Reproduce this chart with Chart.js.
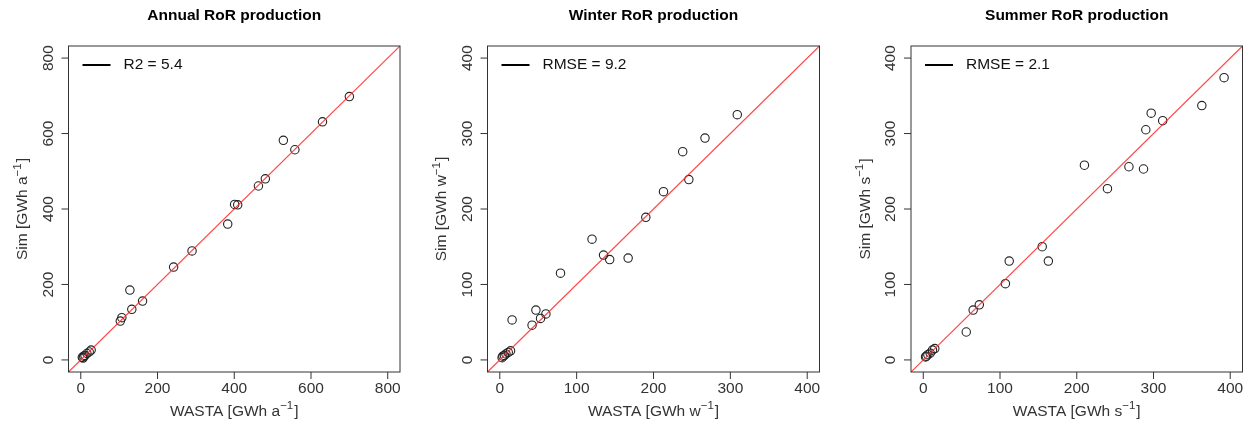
<!DOCTYPE html>
<html>
<head>
<meta charset="utf-8">
<title>RoR production: WASTA vs Sim</title>
<script src="https://cdn.jsdelivr.net/npm/chart.js@4.4.1/dist/chart.umd.min.js"></script>
<style>
  html, body { margin: 0; padding: 0; background: #fff; }
  #wrap { position: relative; width: 1251px; height: 425px; }
  #wrap canvas { position: absolute; top: 0; }
</style>
</head>
<body>
<div id="wrap">
  <canvas id="annual" width="417" height="425" style="left:0px"></canvas>
  <canvas id="winter" width="417" height="425" style="left:417px"></canvas>
  <canvas id="summer" width="417" height="425" style="left:834px"></canvas>
</div>
<script>
// plant values, GWh per period
const annualWasta = [4, 6, 8, 11, 16, 22, 27, 103, 107, 128, 133, 161, 242, 290, 383, 401, 409, 463, 481, 528, 558, 630, 700];
const annualSim   = [7, 5, 10, 12, 17, 21, 26, 103, 112, 185, 134, 156, 246, 289, 360, 412, 411, 461, 480, 582, 557, 631, 698];

const winterWasta = [3, 4, 6, 8, 11, 14, 16, 42, 47, 53, 60, 79, 120, 135, 143, 167, 190, 213, 238, 246, 267, 309];
const winterSim   = [3, 5, 6, 8, 10, 12, 53, 46, 66, 55, 61, 115, 160, 139, 133, 135, 189, 223, 276, 239, 294, 325];

const summerWasta = [3, 4, 6, 9, 12, 15, 56, 65, 73, 107, 112, 155, 163, 210, 240, 268, 287, 290, 297, 312, 363, 392];
const summerSim   = [4, 5, 7, 9, 13, 15, 37, 66, 73, 101, 131, 150, 131, 258, 227, 256, 253, 305, 327, 317, 337, 374];

const annualTicks = [0, 200, 400, 600, 800];
const seasonTicks = [0, 100, 200, 300, 400];

const FONT = '"Liberation Sans", Arial, Helvetica, sans-serif';
const TEXT = '15.5px ' + FONT;

function line(ctx, x1, y1, x2, y2) {
  ctx.beginPath();
  ctx.moveTo(x1, y1);
  ctx.lineTo(x2, y2);
  ctx.stroke();
}

// "text [GWh u^-1]" centred on (cx, cy), with the exponent raised
function unitLabel(ctx, head, cx, cy) {
  const sup = '11.5px ' + FONT;
  const exp = '\u22121', tail = ']';
  ctx.font = TEXT;
  const wHead = ctx.measureText(head).width;
  const wTail = ctx.measureText(tail).width;
  ctx.font = sup;
  const wExp = ctx.measureText(exp).width;
  let x = cx - (wHead + wExp + wTail + 1) / 2;
  const base = cy + 5.5;
  ctx.textAlign = 'left';
  ctx.textBaseline = 'alphabetic';
  ctx.font = TEXT;
  ctx.fillText(head, x, base);
  x += wHead;
  ctx.font = sup;
  ctx.fillText(exp, x, base - 6.5);
  x += wExp + 1;
  ctx.font = TEXT;
  ctx.fillText(tail, x, base);
}

// box, outer ticks, rotated y labels, titles and the key, drawn base-graphics style
const rPlot = {
  id: 'rPlot',
  afterDraw(chart, args, opts) {
    const { ctx, chartArea: a, scales: { x, y } } = chart;
    ctx.save();
    ctx.strokeStyle = '#333';
    ctx.fillStyle = '#333';
    ctx.lineWidth = 1;
    ctx.strokeRect(a.left, a.top, a.width, a.height);

    ctx.font = TEXT;
    ctx.textAlign = 'center';
    ctx.textBaseline = 'middle';
    opts.ticks.forEach(v => {
      const px = x.getPixelForValue(v);
      line(ctx, px, a.bottom, px, a.bottom + 7);
      ctx.fillText(String(v), px, a.bottom + 17);
    });
    opts.ticks.forEach(v => {
      const py = y.getPixelForValue(v);
      line(ctx, a.left - 7, py, a.left, py);
      ctx.save();
      ctx.translate(a.left - 20, py);
      ctx.rotate(-Math.PI / 2);
      ctx.fillText(String(v), 0, 0);
      ctx.restore();
    });

    unitLabel(ctx, 'WASTA [GWh ' + opts.unit, (a.left + a.right) / 2, a.bottom + 38);
    ctx.save();
    ctx.translate(a.left - 47, (a.top + a.bottom) / 2);
    ctx.rotate(-Math.PI / 2);
    unitLabel(ctx, 'Sim [GWh ' + opts.unit, 0, 0);
    ctx.restore();

    ctx.fillStyle = '#000';
    ctx.font = 'bold 15.5px ' + FONT;
    ctx.textAlign = 'center';
    ctx.textBaseline = 'middle';
    ctx.fillText(opts.title, (a.left + a.right) / 2, a.top - 30);

    // key
    ctx.strokeStyle = '#000';
    ctx.lineWidth = 2;
    line(ctx, a.left + 14, a.top + 19, a.left + 42, a.top + 19);
    ctx.font = TEXT;
    ctx.textAlign = 'left';
    ctx.fillStyle = '#111';
    ctx.fillText(opts.key, a.left + 55, a.top + 19);
    ctx.restore();
  }
};

function makePanel(id, xs, ys, ticks, title, unit, key, pad) {
  const span = ticks[ticks.length - 1] - ticks[0];
  const lo = ticks[0] - 0.04 * span;
  const hi = ticks[ticks.length - 1] + 0.04 * span;

  new Chart(document.getElementById(id), {
    type: 'scatter',
    data: {
      datasets: [
        {
          // 1:1 line
          type: 'line',
          data: [{ x: lo, y: lo }, { x: hi, y: hi }],
          borderColor: 'rgba(255, 40, 40, 0.85)',
          borderWidth: 1.2,
          pointRadius: 0,
          fill: false
        },
        {
          data: xs.map((v, i) => ({ x: v, y: ys[i] })),
          pointRadius: 4.2,
          pointHoverRadius: 4.2,
          borderWidth: 1.1,
          borderColor: '#222',
          backgroundColor: 'rgba(0, 0, 0, 0)'
        }
      ]
    },
    options: {
      responsive: false,
      animation: false,
      events: [],
      layout: { padding: pad },
      scales: {
        x: { type: 'linear', min: lo, max: hi, display: false },
        y: { type: 'linear', min: lo, max: hi, display: false }
      },
      plugins: {
        legend: { display: false },
        tooltip: { enabled: false },
        rPlot: { ticks: ticks, title: title, unit: unit, key: key }
      }
    },
    plugins: [rPlot]
  });
}

makePanel('annual', annualWasta, annualSim, annualTicks, 'Annual RoR production', 'a', 'R2 = 5.4',
  { left: 68.5, right: 17, top: 46, bottom: 53 });
makePanel('winter', winterWasta, winterSim, seasonTicks, 'Winter RoR production', 'w', 'RMSE = 9.2',
  { left: 70.5, right: 14.5, top: 46, bottom: 53 });
makePanel('summer', summerWasta, summerSim, seasonTicks, 'Summer RoR production', 's', 'RMSE = 2.1',
  { left: 77, right: 8.5, top: 46, bottom: 53 });
</script>
</body>
</html>
